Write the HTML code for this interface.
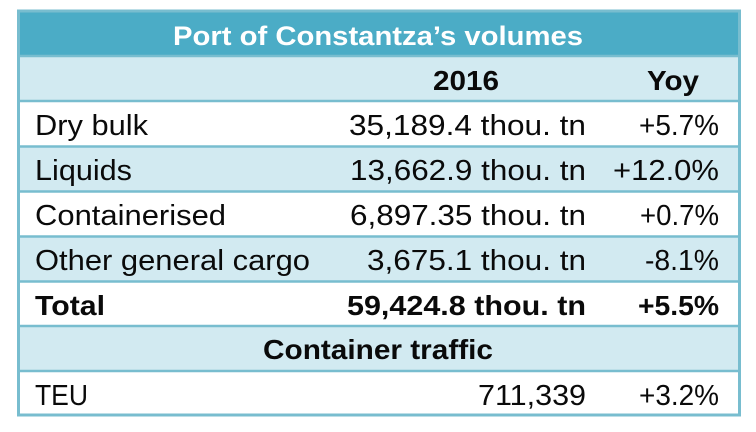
<!DOCTYPE html>
<html>
<head>
<meta charset="utf-8">
<style>
  html, body { margin: 0; padding: 0; background: #ffffff; }
  body { width: 756px; height: 432px; overflow: hidden; }
  svg { display: block; }
  text { font-family: "Liberation Sans", Arial, sans-serif; fill: #0a0a0a; }
  .b { font-weight: bold; }
</style>
</head>
<body>
<svg width="756" height="432" viewBox="0 0 756 432" xmlns="http://www.w3.org/2000/svg">
  <rect x="0" y="0" width="756" height="432" fill="#ffffff"/>
  <!-- row fills -->
  <rect x="18" y="11" width="722" height="45" fill="#4BACC6"/>
  <rect x="18" y="56" width="722" height="45" fill="#D2EAF1"/>
  <rect x="18" y="101" width="722" height="45" fill="#FFFFFF"/>
  <rect x="18" y="146" width="722" height="45" fill="#D2EAF1"/>
  <rect x="18" y="191" width="722" height="45" fill="#FFFFFF"/>
  <rect x="18" y="236" width="722" height="45" fill="#D2EAF1"/>
  <rect x="18" y="281" width="722" height="45" fill="#FFFFFF"/>
  <rect x="18" y="326" width="722" height="45" fill="#D2EAF1"/>
  <rect x="18" y="371" width="722" height="45" fill="#FFFFFF"/>
  <!-- horizontal lines -->
  <g stroke="#78BDCF" stroke-width="2.5">
    <line x1="18" y1="56" x2="740" y2="56"/>
    <line x1="18" y1="101" x2="740" y2="101"/>
    <line x1="18" y1="146.5" x2="740" y2="146.5"/>
    <line x1="18" y1="191.5" x2="740" y2="191.5"/>
    <line x1="18" y1="236.5" x2="740" y2="236.5"/>
    <line x1="18" y1="281.5" x2="740" y2="281.5"/>
    <line x1="18" y1="326" x2="740" y2="326"/>
    <line x1="18" y1="371" x2="740" y2="371"/>
  </g>
  <!-- outer border -->
  <rect x="18.5" y="11" width="721" height="404" fill="none" stroke="#78BDCF" stroke-width="3"/>

  <!-- title -->
  <text class="b" x="173" y="45" font-size="27" style="fill:#ffffff" textLength="410" lengthAdjust="spacingAndGlyphs">Port of Constantza’s volumes</text>

  <!-- header row -->
  <text class="b" x="433" y="90" font-size="28" textLength="66" lengthAdjust="spacingAndGlyphs">2016</text>
  <text class="b" x="647" y="90" font-size="28" textLength="52" lengthAdjust="spacingAndGlyphs">Yoy</text>

  <!-- Dry bulk -->
  <text x="35" y="135" font-size="28.5" textLength="113" lengthAdjust="spacingAndGlyphs">Dry bulk</text>
  <text x="349" y="135" font-size="28.5" textLength="237" lengthAdjust="spacingAndGlyphs">35,189.4 thou. tn</text>
  <text x="639" y="135" font-size="28.5" textLength="80" lengthAdjust="spacingAndGlyphs">+5.7%</text>

  <!-- Liquids -->
  <text x="35" y="180" font-size="28.5" textLength="97" lengthAdjust="spacingAndGlyphs">Liquids</text>
  <text x="350" y="180" font-size="28.5" textLength="236" lengthAdjust="spacingAndGlyphs">13,662.9 thou. tn</text>
  <text x="613" y="180" font-size="28.5" textLength="106" lengthAdjust="spacingAndGlyphs">+12.0%</text>

  <!-- Containerised -->
  <text x="35" y="225" font-size="28.5" textLength="191" lengthAdjust="spacingAndGlyphs">Containerised</text>
  <text x="350" y="225" font-size="28.5" textLength="236" lengthAdjust="spacingAndGlyphs">6,897.35 thou. tn</text>
  <text x="640" y="225" font-size="28.5" textLength="79" lengthAdjust="spacingAndGlyphs">+0.7%</text>

  <!-- Other general cargo -->
  <text x="35" y="270" font-size="28.5" textLength="275" lengthAdjust="spacingAndGlyphs">Other general cargo</text>
  <text x="367" y="270" font-size="28.5" textLength="219" lengthAdjust="spacingAndGlyphs">3,675.1 thou. tn</text>
  <text x="645" y="270" font-size="28.5" textLength="74" lengthAdjust="spacingAndGlyphs">-8.1%</text>

  <!-- Total -->
  <text class="b" x="35" y="315" font-size="28" textLength="70" lengthAdjust="spacingAndGlyphs">Total</text>
  <text class="b" x="347" y="315" font-size="28" textLength="239" lengthAdjust="spacingAndGlyphs">59,424.8 thou. tn</text>
  <text class="b" x="638" y="315" font-size="28" textLength="81" lengthAdjust="spacingAndGlyphs">+5.5%</text>

  <!-- Container traffic -->
  <text class="b" x="263" y="359" font-size="28" textLength="230" lengthAdjust="spacingAndGlyphs">Container traffic</text>

  <!-- TEU -->
  <text x="35" y="405" font-size="28.5" textLength="53" lengthAdjust="spacingAndGlyphs">TEU</text>
  <text x="478" y="405" font-size="28.5" textLength="108" lengthAdjust="spacingAndGlyphs">711,339</text>
  <text x="639" y="405" font-size="28.5" textLength="80" lengthAdjust="spacingAndGlyphs">+3.2%</text>
</svg>
</body>
</html>
